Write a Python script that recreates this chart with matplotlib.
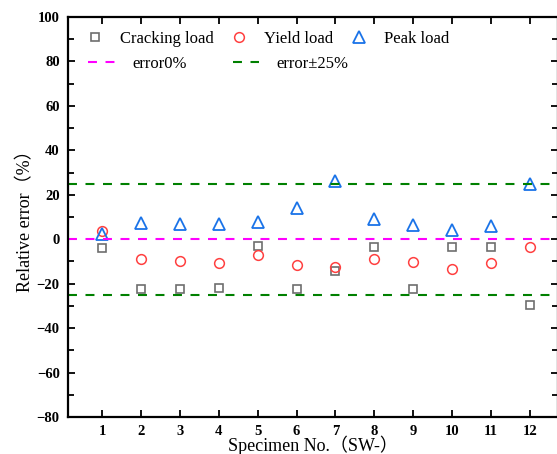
import matplotlib.pyplot as plt
from matplotlib.lines import Line2D
from matplotlib.ticker import MultipleLocator

# data
specimens = [1, 2, 3, 4, 5, 6, 7, 8, 9, 10, 11, 12]
cracking = [-3.9, -22.5, -22.6, -22.0, -3.0, -22.2, -14.3, -3.5, -22.4, -3.5, -3.3, -29.4]
yield_ld = [3.6, -8.7, -9.6, -10.6, -7.3, -11.7, -12.7, -9.1, -10.2, -13.5, -10.5, -3.7]
peak = [2.5, 7.3, 6.7, 6.9, 7.6, 14.1, 26.2, 8.9, 6.4, 4.0, 5.9, 24.7]
err_levels = [0, 25, -25]

serif = ['Liberation Serif', 'Noto Sans CJK SC']
dash = (4.3, 4.1)

fig = plt.figure(figsize=(5.57, 4.54), dpi=100)
ax = fig.add_axes([0.1222, 0.0815, 0.879, 0.881])

h_crack, = ax.plot(specimens, cracking, ls='none', marker='s', ms=5.5, mfc='none',
                   mec='#6e6e6e', mew=1.2, label='Cracking load')
h_yield, = ax.plot(specimens, yield_ld, ls='none', marker='o', ms=7, mfc='none',
                   mec='#ff4040', mew=1.1, label='Yield load')
h_peak, = ax.plot(specimens, peak, ls='none', marker='^', ms=8, mfc='none',
                  mec='#1a73e8', mew=1.3, label='Peak load')

h_zero = ax.axhline(err_levels[0], color='#ff00ff', lw=1.5, dashes=dash, label='error0%')
h_25 = ax.axhline(err_levels[1], color='#008000', lw=1.5, dashes=dash, label='error\u00b125%')
ax.axhline(err_levels[2], color='#008000', lw=1.5, dashes=dash)

ax.set_xlim(0.12, 12.72)
ax.set_ylim(-80, 100)
ax.set_xticks(specimens)
ax.yaxis.set_major_locator(MultipleLocator(20))
ax.yaxis.set_minor_locator(MultipleLocator(10))

for s in ax.spines.values():
    s.set_linewidth(1.6)
ax.tick_params(axis='both', which='major', direction='in', length=5, width=1.3,
               top=True, right=True, labelsize=10.5, pad=6)
ax.tick_params(axis='y', which='minor', direction='in', length=4, width=1.3, right=True)
for lab in ax.get_xticklabels() + ax.get_yticklabels():
    lab.set_family('Liberation Serif')
    lab.set_fontweight('bold')

ax.set_xlabel('Specimen No.（SW-）', family=serif, fontsize=13, labelpad=-2)
ax.set_ylabel('Relative error（%）', family=serif, fontsize=13, labelpad=2)

# legend: two separate rows as in the reference
leg_font = {'family': 'Liberation Serif', 'size': 12}
leg1 = ax.legend(handles=[h_crack, h_yield, h_peak], ncol=3, loc='center left',
                 bbox_to_anchor=(82 / 557, 1 - 39 / 454), bbox_transform=fig.transFigure,
                 frameon=False, prop=leg_font, borderpad=0, borderaxespad=0,
                 handlelength=1.56, handletextpad=0.72, columnspacing=0.75)
ax.add_artist(leg1)
ax.legend(handles=[h_zero, h_25], ncol=2, loc='center left',
          bbox_to_anchor=(88 / 557, 1 - 64 / 454), bbox_transform=fig.transFigure,
          frameon=False, prop=leg_font, borderpad=0, borderaxespad=0,
          handlelength=1.6, handletextpad=1.05, columnspacing=2.75)

fig.savefig('out.png', dpi=100)
